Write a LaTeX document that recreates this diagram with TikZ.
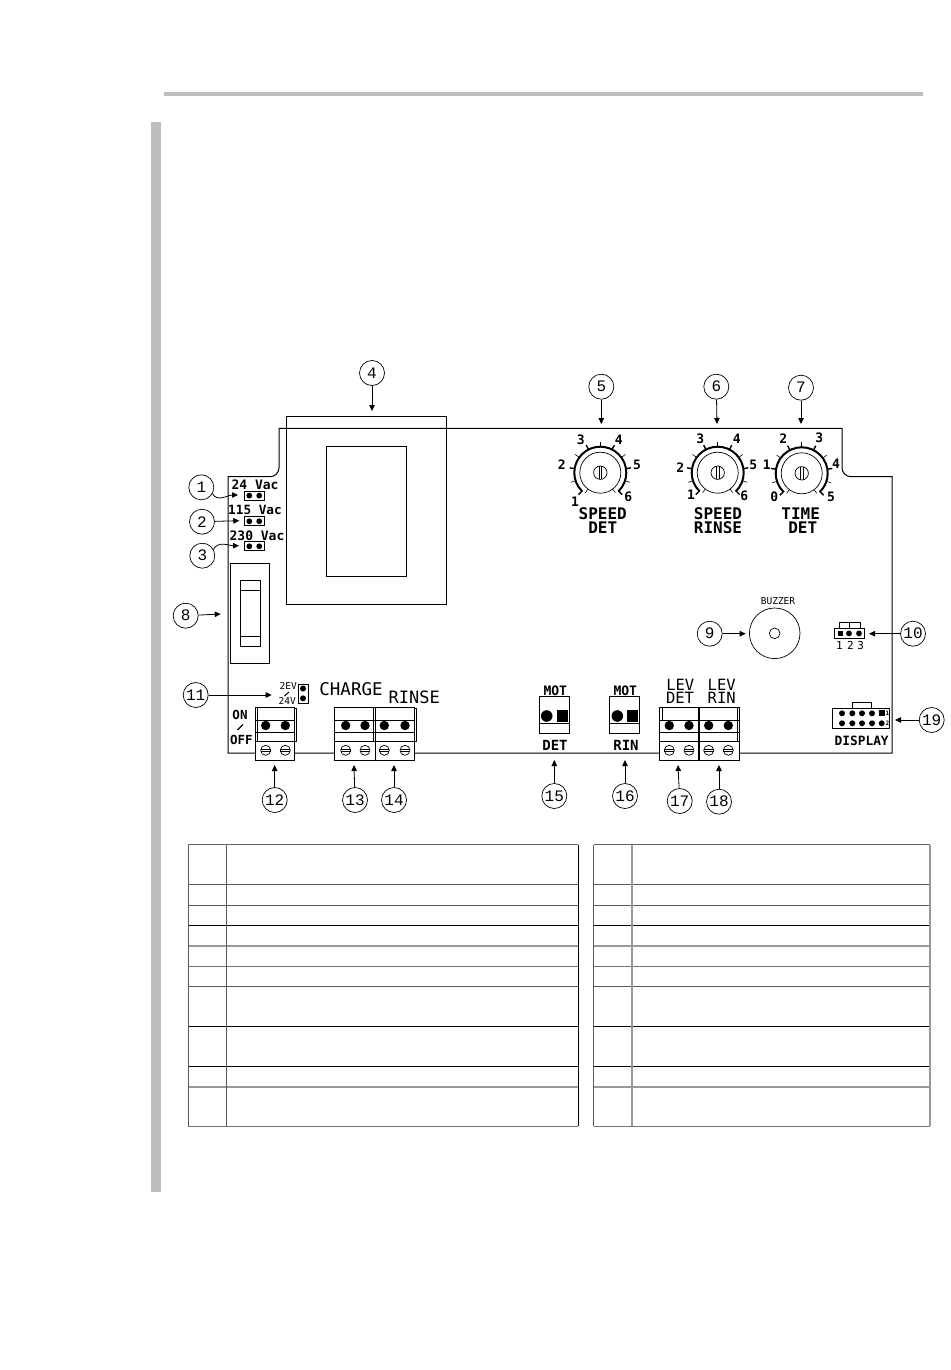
\documentclass[tikz,border=0pt]{standalone}
\usepackage{fontspec}
\usetikzlibrary{arrows.meta}
\newfontfamily\cadfont{DejaVu Sans Mono}
\newfontfamily\thinfont{Liberation Mono}
\newcommand{\fsz}[1]{\fontsize{#1}{#1}\selectfont}
\definecolor{barg}{HTML}{BDBDBD}
\tikzset{
  x=1pt,y=-1pt,
  wire/.style={line width=1pt,black},
  thinline/.style={line width=0.7pt,black},
  cnum/.style={circle,draw=black,line width=0.7pt,minimum size=25pt,inner sep=0pt,font=\thinfont\fsz{16}},
  arr/.style={line width=0.8pt,black,-{Triangle[length=6pt,width=5.5pt]}},
  lab/.style={inner sep=0pt,font=\cadfont\bfseries\fsz{#1}},
  lab/.default=13,
  tin/.style={inner sep=0pt,font=\cadfont\fsz{#1}},
  tin/.default=10
}
\newcommand{\knobdraw}[2]{%
  \begin{scope}[shift={(#1,#2)}]
    \draw[line width=0.7pt] (0,0) circle[radius=20.5];
    \draw[line width=2pt] ({26*cos(225)},{-26*sin(225)}) arc[start angle=135,end angle=405,radius=26];
    \draw[line width=0.7pt] (0,0) circle[radius=6.7];
    \draw[line width=0.7pt] (-1.3,-6.5) -- (-1.3,6.5) (1.3,-6.5) -- (1.3,6.5);
    \foreach \a in {198,144,90,36,-18} \draw[line width=0.6pt] ({26*cos(\a)},{-26*sin(\a)}) -- ({31*cos(\a)},{-31*sin(\a)});
    \foreach \a in {171,117,63,9} \draw[line width=1.4pt] ({26*cos(\a)},{-26*sin(\a)}) -- ({31*cos(\a)},{-31*sin(\a)});
    \foreach \a in {225,-45} \draw[line width=1.4pt] ({25*cos(\a)},{-25*sin(\a)}) -- ({31*cos(\a)},{-31*sin(\a)});
    \foreach \a in {233,-53} \draw[line width=0.6pt] ({20.5*cos(\a)},{-20.5*sin(\a)}) -- ({25*cos(\a)},{-25*sin(\a)});
  \end{scope}}
\newcommand{\termblock}[3]{%
  \draw[thinline,fill=white] (#1,707.3) rectangle (#2,760.3);
  \draw[thinline] (#1,720) -- (#2,720) (#1,732.3) -- (#2,732.3) (#1,741) -- (#2,741);
  \foreach \q in {#3} {
    \fill (\q,725.5) circle[radius=4.7];
    \draw[line width=0.7pt] (\q,750.3) circle[radius=5];
    \draw[line width=0.6pt] (\q-5,749.4) -- (\q+5,749.4) (\q-5,751.2) -- (\q+5,751.2);
  }}
\begin{document}
\begin{tikzpicture}
\useasboundingbox (0,0) rectangle (950,1370);
\fill[barg] (164,92.5) rectangle (922.5,96);
\fill[barg] (151,122) rectangle (161,1192);
\draw[wire] (228,753) -- (228,476.7) -- (270,476.7) to[out=0,in=-90] (279,467.7) -- (279,428.3)
  -- (842,428.3) -- (842,467.7) to[out=-90,in=180] (851,476.7) -- (892,476.7) -- (892,753) -- cycle;
\draw[wire] (286.3,416) rectangle (446.7,604);
\draw[wire] (326,446) rectangle (406.7,576);
\foreach \y in {491,516.7,541.7} {
  \draw[wire] (244.3,\y) rectangle (264.7,\y+9);
  \fill (249.3,\y+4.6) circle[radius=2.9] (259.2,\y+4.6) circle[radius=2.9];
}
\node[lab=13] (v24) at (255,485) {24 Vac};
\node[lab=12.7] (v115) at (255,510) {115 Vac};
\node[lab=13] (v230) at (257,535.5) {230 Vac};
\draw[wire] (230.3,563.3) rectangle (269.3,663.3);
\draw[wire] (240.3,580.3) rectangle (260.3,646.3);
\draw[thinline] (240.3,590.3) -- (260.3,590.3) (240.3,636) -- (260.3,636);
\knobdraw{600.3}{472.7}
\knobdraw{717.7}{472.7}
\knobdraw{801.7}{473.3}
\foreach \t/\px/\py/\nm in {1/575/501.7/ka1,2/561.7/465/ka2,3/580.7/439.3/ka3,4/618.7/439.3/ka4,5/637/465/ka5,6/628.3/496.7/ka6,
  1/691/495/kb1,2/680.3/467.7/kb2,3/700.3/438.3/kb3,4/736.7/438.3/kb4,5/753.3/465/kb5,6/744.3/496/kb6,
  0/774.3/496.7/kc0,1/766.7/465/kc1,2/783.3/438.3/kc2,3/819.3/437.3/kc3,4/836/463.3/kc4,5/831/497.3/kc5}
  \node[lab=13] (\nm) at (\px,\py) {\t};
\node[lab=16] (sp1) at (602.7,513.3) {SPEED};
\node[lab=16] (de1) at (602.7,527.7) {DET};
\node[lab=16] (sp2) at (718,513.3) {SPEED};
\node[lab=16] (ri2) at (718,527.7) {RINSE};
\node[lab=16] (ti3) at (800.7,513.3) {TIME};
\node[lab=16] (de3) at (802.7,527.7) {DET};
\draw[thinline] (774.7,633.3) circle[radius=25.3];
\draw[thinline] (774.7,633.3) circle[radius=5.3];
\node[tin=9.5] (buz) at (778,600.7) {BUZZER};
\draw[wire] (834.3,628.7) rectangle (864.7,638.3);
\fill (837.5,630.7) rectangle (842.8,636.2);
\fill (849,633.4) circle[radius=2.9] (859,633.4) circle[radius=2.9];
\draw[thinline] (839.7,628.7) -- (839.7,622.5) -- (860,622.5) -- (860,628.7) (849.7,622.5) -- (849.7,628.7);
\node[tin=11] (n1) at (839.3,645) {1};
\node[tin=11] (n2) at (850.5,645) {2};
\node[tin=11] (n3) at (860.7,645) {3};
\draw[wire] (832.7,708.3) rectangle (889,728.3);
\draw[thinline] (852.3,708.3) -- (852.3,702.5) -- (871.7,702.5) -- (871.7,708.3);
\foreach \q in {842,852.3,862,872} \fill (\q,713.3) circle[radius=3] (\q,723.3) circle[radius=3];
\fill (878.7,710.3) rectangle (884.7,716.3);
\fill (881.7,723.3) circle[radius=3];
\node[inner sep=0pt,font=\cadfont\bfseries\fsz{6}] (d1) at (887.3,713.3) {1};
\node[inner sep=0pt,font=\cadfont\bfseries\fsz{6}] (d2) at (887.3,723.3) {2};
\node[lab=12.8] (dsp) at (861.7,741) {DISPLAY};
\draw[wire] (298.3,684) rectangle (308,703.3);
\fill (303,688.5) circle[radius=3] (303,698.3) circle[radius=3];
\node[tin=9.5] (ev) at (288.3,686) {2EV};
\node[tin=9.5] (v24b) at (287.3,700.7) {24V};
\draw[line width=1pt] (284.5,696) -- (289,692);
\node[tin=17.5] (chg) at (351,689) {CHARGE};
\node[tin=17] (rin) at (414.3,697) {RINSE};
\node[lab=12.5] (on) at (240,715) {ON};
\draw[line width=1.1pt] (237.5,730) -- (243,724.5);
\node[lab=12.5] (off) at (241.3,739.5) {OFF};
\draw[thinline] (294.7,708.5) -- (296.3,708.5) -- (296.3,741) -- (294.7,741);
\termblock{255.3}{294.7}{265.7,285.3}
\draw[thinline] (257.7,707.3) -- (257.7,741);
\draw[thinline] (414.3,708.5) -- (416.7,708.5) -- (416.7,741) -- (414.3,741);
\termblock{334.7}{375.3}{345.7,365}
\termblock{375.3}{414.3}{384.3,405}
\draw[thinline] (373.8,707.3) -- (373.8,741);
\termblock{659.3}{699.3}{669.3,689}
\termblock{699.3}{739.3}{708.7,728.3}
\draw[line width=2.2pt] (699.3,707.3) -- (699.3,760.3);
\draw[thinline] (662,707.3) -- (662,720) (737,707.3) -- (737,741);
\node[tin=15.5] (lv1) at (680.3,684.7) {LEV};
\node[tin=15.5] (de4) at (680,698.3) {DET};
\node[tin=15.5] (lv2) at (721.7,684.7) {LEV};
\node[tin=15.5] (ri4) at (721.7,698.3) {RIN};
\draw[wire] (539.3,696.7) rectangle (569.7,733.5);
\draw[line width=1.8pt] (539.3,733.5) -- (569.7,733.5);
\draw[thinline] (539.3,723.3) -- (569.7,723.3);
\fill (546.7,716) circle[radius=5.8];
\fill (557.3,710.3) rectangle (568,721.7);
\node[lab=13] (m1) at (555.3,690.7) {MOT};
\node[lab=14] (m1d) at (555,745) {DET};
\draw[wire] (609.3,696.7) rectangle (639.3,733.5);
\draw[line width=1.8pt] (609.3,733.5) -- (639.3,733.5);
\draw[thinline] (609.3,723.3) -- (639.3,723.3);
\fill (617.3,716) circle[radius=5.8];
\fill (627.3,710.3) rectangle (638.3,721.7);
\node[lab=13] (m2) at (625.3,690.3) {MOT};
\node[lab=14] (m2r) at (626,745.3) {RIN};
\foreach \n/\px/\py in {1/201.3/487.3,2/202/521.7,3/202.3/555.7,4/372/373,5/601.3/386.7,6/716.3/386.7,7/801/387.7,
  8/185.7/615.7,9/709.7/633.7,10/913/633.7,11/195.7/695,12/274.7/800,13/355/800,14/394/800,15/554.3/796,16/625/796,
  17/679.7/801,18/719/801.7,19/931.7/720}
  \node[cnum] (c\n) at (\px,\py) {\n};
\foreach \n/\px/\py in {1/238/495,2/239.3/520.7,3/239/545.7,4/372/411,5/601.3/424,6/717/424,7/801/424,8/220.7/614,
  9/745.7/633.7,10/869/633.7,11/271.7/695,12/274.7/765,13/354/765,14/394/765,15/554.3/760,16/625/760,17/678/765,18/719/765,19/895/720}
  \coordinate (t\n) at (\px,\py);
\draw[arr] (c1.-30) to[out=-60,in=180] (t1);
\draw[arr] (c2) -- (t2);
\draw[arr] (c3.30) to[out=60,in=180] (t3);
\foreach \n in {4,5,6,7,8,9,10,11,12,13,14,15,16,17,18,19}
  \draw[arr] (c\n) -- (t\n);
\foreach \xa/\xc in {188.3/578.3,593.7/930} {
  \foreach \y/\g/\w in {844.7/60/1,884.3/65/1,905.3/65/1,925.7/100/1,946/40/1.5,966.3/55/1,986.3/65/1,1026.7/100/1,1066.3/100/1,1087/40/1.5,1126.3/55/1}
    \draw[line width=\w pt,color=black!\g!white] (\xa,\y) -- (\xc,\y);
}
\draw[line width=1pt,black!65!white] (188.3,844.7) -- (188.3,1126.3) (226.3,844.7) -- (226.3,1126.3);
\draw[line width=1pt,black] (578.3,844.7) -- (578.3,1126.3);
\draw[line width=1pt,black!65!white] (593.7,844.7) -- (593.7,1126.3);
\draw[line width=1.5pt,black!40!white] (632,844.7) -- (632,1126.3) (930,844.7) -- (930,1126.3);
\end{tikzpicture}
\end{document}
